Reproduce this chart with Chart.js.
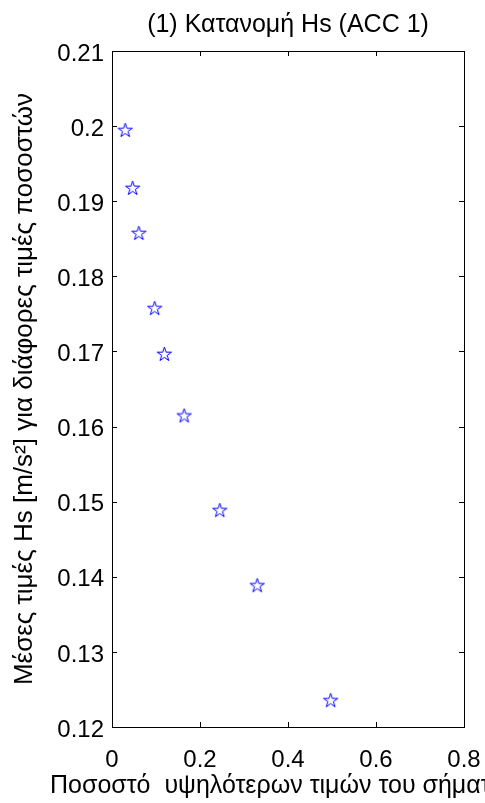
<!DOCTYPE html>
<html>
<head>
<meta charset="utf-8">
<title>Κατανομή Hs</title>
<script src="https://cdn.jsdelivr.net/npm/chart.js@4"></script>
<style>
  body { margin: 0; background: #fff; }
  canvas { display: block; }
</style>
</head>
<body>
<canvas id="chart" width="485" height="803"></canvas>
<script>
// percentage of highest values (x) and mean Hs (y)
const percent = [0.03, 0.047, 0.061, 0.097, 0.119, 0.164, 0.245, 0.33, 0.497];
const meanHs = [0.1994, 0.1917, 0.1857, 0.1757, 0.1696, 0.1614, 0.1488, 0.1388, 0.1235];
const xTicks = [0, 0.2, 0.4, 0.6, 0.8];
const yTicks = [0.12, 0.13, 0.14, 0.15, 0.16, 0.17, 0.18, 0.19, 0.2, 0.21];

const titleText = '(1) Κατανομή Hs (ACC 1)';
const xLabel = 'Ποσοστό  υψηλότερων τιμών του σήματος';
const yLabel = 'Μέσες τιμές Hs [m/s²] για διάφορες τιμές ποσοστών';

const FONT = 'Arial, "Liberation Sans", sans-serif';

// outlined pentagram marker like matlab 'p'
function makeStar(r, color) {
  const c = document.createElement('canvas');
  const s = Math.ceil(r * 2 + 4);
  c.width = s; c.height = s;
  const g = c.getContext('2d');
  g.strokeStyle = color;
  g.lineWidth = 1;
  g.beginPath();
  for (let i = 0; i < 10; i++) {
    const rr = i % 2 === 0 ? r : r * 0.382;
    const a = -Math.PI / 2 + i * Math.PI / 5;
    const x = s / 2 + rr * Math.cos(a), y = s / 2 + rr * Math.sin(a);
    i === 0 ? g.moveTo(x, y) : g.lineTo(x, y);
  }
  g.closePath();
  g.stroke();
  return c;
}
const star = makeStar(7.5, '#0000ff');

// box + inward ticks + x label
const matlabAxes = {
  id: 'matlabAxes',
  afterDraw(chart) {
    const {ctx, chartArea: a, scales} = chart;
    ctx.save();
    ctx.strokeStyle = '#000';
    ctx.lineWidth = 1;
    ctx.strokeRect(a.left + 0.5, a.top + 0.5, a.right - a.left, a.bottom - a.top);
    const len = 5;
    ctx.beginPath();
    xTicks.forEach(v => {
      const x = Math.round(scales.x.getPixelForValue(v)) + 0.5;
      ctx.moveTo(x, a.bottom); ctx.lineTo(x, a.bottom - len);
      ctx.moveTo(x, a.top); ctx.lineTo(x, a.top + len);
    });
    yTicks.forEach(v => {
      const y = Math.round(scales.y.getPixelForValue(v)) + 0.5;
      ctx.moveTo(a.left, y); ctx.lineTo(a.left + len, y);
      ctx.moveTo(a.right, y); ctx.lineTo(a.right - len, y);
    });
    ctx.stroke();
    ctx.fillStyle = '#000';
    ctx.font = '25px ' + FONT;
    ctx.textAlign = 'left';
    ctx.textBaseline = 'alphabetic';
    ctx.fillText(xLabel, 50, 793);
    ctx.restore();
  }
};

const fmt = v => String(+Number(v).toFixed(2));

new Chart(document.getElementById('chart'), {
  type: 'scatter',
  data: {
    datasets: [{
      data: percent.map((p, i) => ({x: p, y: meanHs[i]})),
      pointStyle: star,
      pointRadius: 8,
      pointHoverRadius: 8
    }]
  },
  options: {
    responsive: false,
    animation: false,
    layout: {padding: {right: 21, left: 0, top: 0, bottom: 0}},
    plugins: {
      legend: {display: false},
      tooltip: {enabled: false},
      title: {
        display: true,
        text: titleText,
        fullSize: false,
        color: '#000',
        font: {family: FONT, size: 25, weight: 'normal'},
        padding: {top: 10, bottom: 11}
      }
    },
    scales: {
      x: {
        type: 'linear',
        min: 0, max: 0.8,
        afterBuildTicks: s => { s.ticks = xTicks.map(v => ({value: v})); },
        afterFit: s => { s.height = 76; s.paddingLeft = 0; s.paddingRight = 0; },
        grid: {display: false, drawTicks: false},
        border: {display: false},
        ticks: {color: '#000', padding: 19, maxRotation: 0, font: {family: FONT, size: 24}, callback: fmt}
      },
      y: {
        type: 'linear',
        min: 0.12, max: 0.21,
        afterBuildTicks: s => { s.ticks = yTicks.map(v => ({value: v})); },
        afterFit: s => { s.width = 112; },
        grid: {display: false, drawTicks: false},
        border: {display: false},
        title: {
          display: true,
          text: yLabel,
          color: '#000',
          font: {family: FONT, size: 26},
          padding: {top: 9, bottom: 0}
        },
        ticks: {color: '#000', padding: 8, labelOffset: 3, font: {family: FONT, size: 24}, callback: fmt}
      }
    }
  },
  plugins: [matlabAxes]
});
</script>
</body>
</html>
